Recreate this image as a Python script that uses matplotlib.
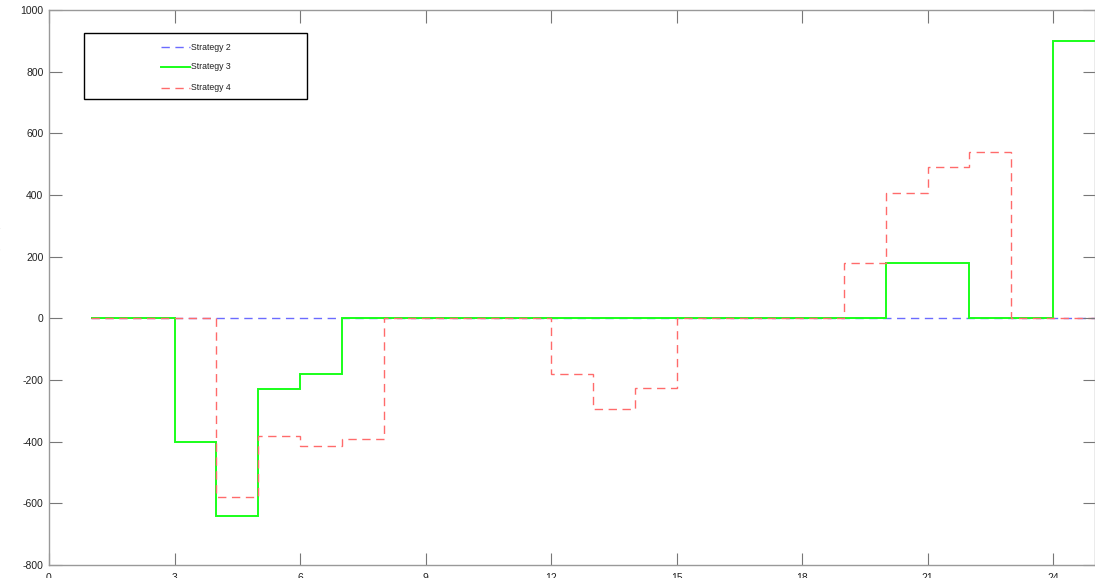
import matplotlib
matplotlib.use("Agg")
import matplotlib.pyplot as plt
from matplotlib.patches import Rectangle
from matplotlib.lines import Line2D

plt.rcParams["axes.unicode_minus"] = False

# Hourly pumped-storage output (MW), one value per hour interval [h, h+1)
hour_edges = list(range(1, 26))
strategy2 = [0] * 24
strategy3 = [0, 0, -400, -640, -230, -180, 0, 0, 0, 0, 0, 0,
             0, 0, 0, 0, 0, 0, 0, 180, 180, 0, 0, 900]
strategy4 = [0, 0, 0, -580, -380, -415, -390, 0, 0, 0, 0, -180,
             -295, -225, 0, 0, 0, 0, 180, 405, 490, 540, 0, 0]
series_names = ["Strategy 2", "Strategy 3", "Strategy 4"]

x_ticks = [0, 3, 6, 9, 12, 15, 18, 21, 24]
y_ticks = [-800, -600, -400, -200, 0, 200, 400, 600, 800, 1000]

styles = [
    dict(color="#6b6bff", linestyle=(0, (6, 4)), linewidth=1.0),
    dict(color="#1aff1a", linestyle="-", linewidth=1.4),
    dict(color="#ff6b6b", linestyle=(0, (6, 4)), linewidth=1.0),
]

fig = plt.figure(figsize=(10.95, 5.78), dpi=100)
ax = fig.add_axes([49 / 1095, 1 - 565 / 578, 1 - 49 / 1095, 555 / 578])

for vals, st in zip([strategy2, strategy3, strategy4], styles):
    ax.stairs(vals, hour_edges, baseline=None, **st)

ax.set_xlim(0, 25)
ax.set_ylim(-800, 1000)
ax.set_xticks(x_ticks)
ax.set_yticks(y_ticks)
ax.tick_params(direction="in", length=9, width=0.8, color="#777777",
               top=True, right=True, labelsize=7.5, labelcolor="#222222")
ax.tick_params(axis="y", pad=4)
ax.tick_params(axis="x", pad=6)
for lab in ax.get_xticklabels() + ax.get_yticklabels():
    lab.set_fontfamily("Liberation Sans")
for sp in ax.spines.values():
    sp.set_color("#999999")
    sp.set_linewidth(1.0)

ax.set_ylabel("Pumped power output(MW)", fontfamily="Liberation Serif",
              fontsize=8, labelpad=14)

# Boxed legend in the upper-left corner
ax.add_patch(Rectangle((0.0335, 0.8396), 0.2132, 0.119, transform=ax.transAxes,
                       facecolor="white", edgecolor="black", linewidth=1.0,
                       zorder=5))
legend_y = [0.9333, 0.8973, 0.8595]
for name, st, yy in zip(series_names, styles, legend_y):
    ax.add_line(Line2D([0.107, 0.1348], [yy, yy], transform=ax.transAxes,
                       zorder=6, **st))
    ax.text(0.1358, yy, name, transform=ax.transAxes, va="center", ha="left",
            fontsize=6.3, fontfamily="Liberation Sans", color="#222222",
            zorder=6)

fig.savefig("out.png", dpi=100)
